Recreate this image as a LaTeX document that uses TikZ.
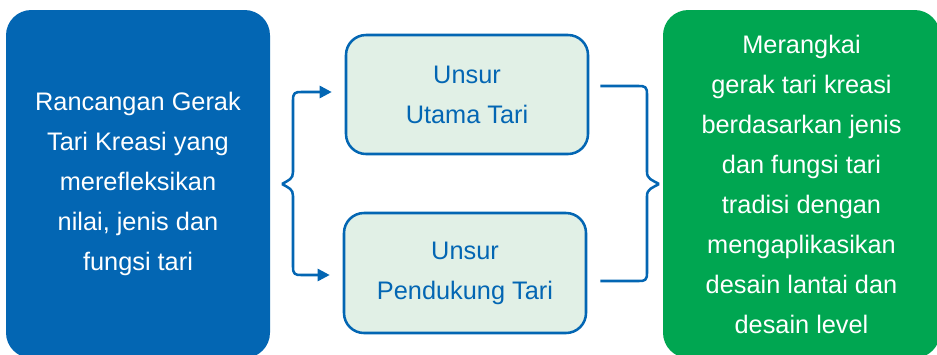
\documentclass[tikz,border=0pt]{standalone}
\usepackage{fontspec}
\setmainfont{Liberation Sans}
\usetikzlibrary{arrows.meta,calc}
\definecolor{bblue}{HTML}{0366B3}
\definecolor{bgreen}{HTML}{00A651}
\definecolor{lgreen}{HTML}{E1F0E6}
\tikzset{
  txt/.style={font=\fontsize{19}{30}\selectfont, align=center},
  bigblue/.style={txt, fill=bblue, text=white, rounded corners=19pt, inner sep=0pt},
  biggreen/.style={txt, fill=bgreen, text=white, rounded corners=19pt, inner sep=0pt},
  smallbox/.style={txt, fill=lgreen, draw=bblue, line width=1.9pt, text=bblue, rounded corners=15pt, inner sep=0pt, minimum width=181.5pt},
  conn/.style={draw=bblue, line width=1.9pt, line join=round},
  arr/.style={conn, -{Triangle[length=9pt,width=9pt]}, shorten >=9.75pt},
}
\begin{document}
\begin{tikzpicture}[x=0.75pt,y=-0.75pt]
\useasboundingbox (0,0) rectangle (937,354);
\clip (0,0) rectangle (937,354);
\node[bigblue, minimum width=198pt, minimum height=261pt] (src) at (138,184)
  {Rancangan Gerak\\Tari Kreasi yang\\merefleksikan\\nilai, jenis dan\\fungsi tari};
\node[biggreen, minimum width=207.75pt, minimum height=261pt] (res) at (801.5,184)
  {Merangkai\\gerak tari kreasi\\berdasarkan jenis\\dan fungsi tari\\tradisi dengan\\mengaplikasikan\\desain lantai dan\\desain level};
\node[smallbox, minimum height=89.25pt] (top) at (467,94.5) {Unsur\\Utama Tari};
\node[smallbox, minimum height=90pt] (bot) at (465,273) {Unsur\\Pendukung Tari};
% left brace
\coordinate (lb) at (282,184);
\draw[arr] (lb) .. controls (289,180) and (293,179) .. (293,172)
  -- (293,100) .. controls (293,93) and (295,92) .. (301,92) -- ([shift={(0,-2.5)}]top.west);
\draw[arr] (lb) .. controls (289,188) and (293,189) .. (293,196)
  -- (293,267) .. controls (293,274) and (295,275) .. (301,275) -- ([shift={(0,2)}]bot.west);
% right brace
\coordinate (rb) at (659,184);
\draw[conn] ([shift={(11,-8.5)}]top.east) -- (639,86) .. controls (645,86) and (647,87) .. (647,94)
  -- (647,172) .. controls (647,179) and (652,180) .. (rb);
\draw[conn] ([shift={(13,8)}]bot.east) -- (639,281) .. controls (645,281) and (647,280) .. (647,273)
  -- (647,196) .. controls (647,189) and (652,188) .. (rb);
\end{tikzpicture}
\end{document}
